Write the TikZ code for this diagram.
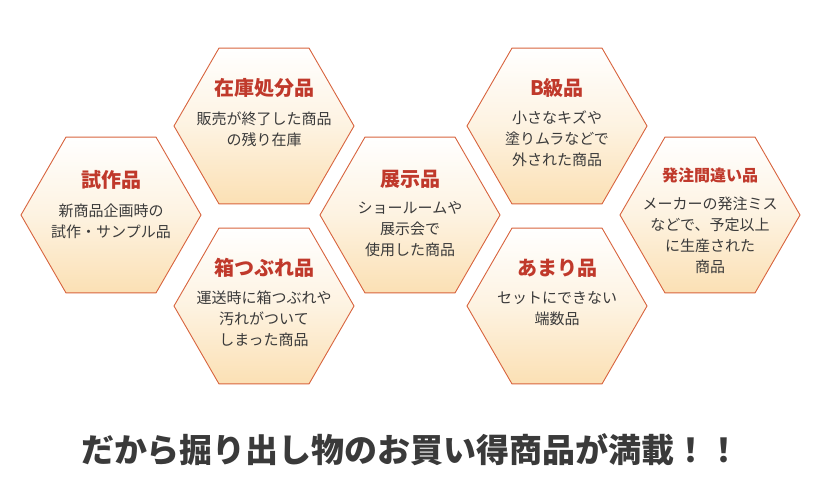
\documentclass[tikz,border=0pt]{standalone}
\usepackage{fontspec}
\usetikzlibrary{shapes.geometric}
\newfontfamily\cjk{Noto Sans CJK JP}
\definecolor{hexline}{HTML}{D8643E}
\definecolor{hexbot}{HTML}{FBE0B4}
\definecolor{ttl}{HTML}{C0392B}
\definecolor{bodyc}{HTML}{3A3A3A}
\tikzset{
  hexa/.style={regular polygon, regular polygon sides=6, minimum size=180pt, inner sep=0pt, draw=hexline, line width=0.9pt, top color=white, bottom color=hexbot, middle color=hexbot!40},
  ttlstyle/.style={text=ttl, font=\cjk\bfseries\fontsize{20}{22}\selectfont},
  bodystyle/.style={text=bodyc, align=center, font=\cjk\fontsize{15}{21}\selectfont}
}
\begin{document}
\begin{tikzpicture}[x=1pt,y=-1pt]
\useasboundingbox (0,0) rectangle (820,500);
\fill[white] (0,0) rectangle (820,500);
\foreach \n/\x/\y in {a/111/215, b/264/126, c/264/306, d/410/215, e/557/126, f/557/306, g/710/215}
{
 \node[hexa] (h\n) at (\x,\y) {};
}
\node[ttlstyle] (ta) at (111,180) {試作品};
\node[bodystyle,anchor=north] (ba) at (111,200) {新商品企画時の\\試作・サンプル品};
\node[ttlstyle] (tb) at (264,88) {在庫処分品};
\node[bodystyle,anchor=north] (bb) at (264,108) {販売が終了した商品\\の残り在庫};
\node[ttlstyle] (tc) at (264,268) {箱つぶれ品};
\node[bodystyle,anchor=north] (bc) at (264,287) {運送時に箱つぶれや\\汚れがついて\\しまった商品};
\node[ttlstyle] (td) at (410,179) {展示品};
\node[bodystyle,anchor=north] (bd) at (410,198) {ショールームや\\展示会で\\使用した商品};
\node[ttlstyle] (te) at (557,88) {B級品};
\node[bodystyle,anchor=north] (be) at (557,107) {小さなキズや\\塗りムラなどで\\外された商品};
\node[ttlstyle] (tf) at (557,268) {あまり品};
\node[bodystyle,anchor=north] (bf) at (557,288) {セットにできない\\端数品};
\node[ttlstyle,font=\cjk\bfseries\fontsize{16}{20}\selectfont] (tg) at (710,175) {発注間違い品};
\node[bodystyle,anchor=north] (bg) at (710,193) {メーカーの発注ミス\\などで、予定以上\\に生産された\\商品};
\node[text=bodyc, font=\cjk\bfseries\fontsize{33}{36}\selectfont] (foot) at (411,450) {だから掘り出し物のお買い得商品が満載！！};
\end{tikzpicture}
\end{document}
